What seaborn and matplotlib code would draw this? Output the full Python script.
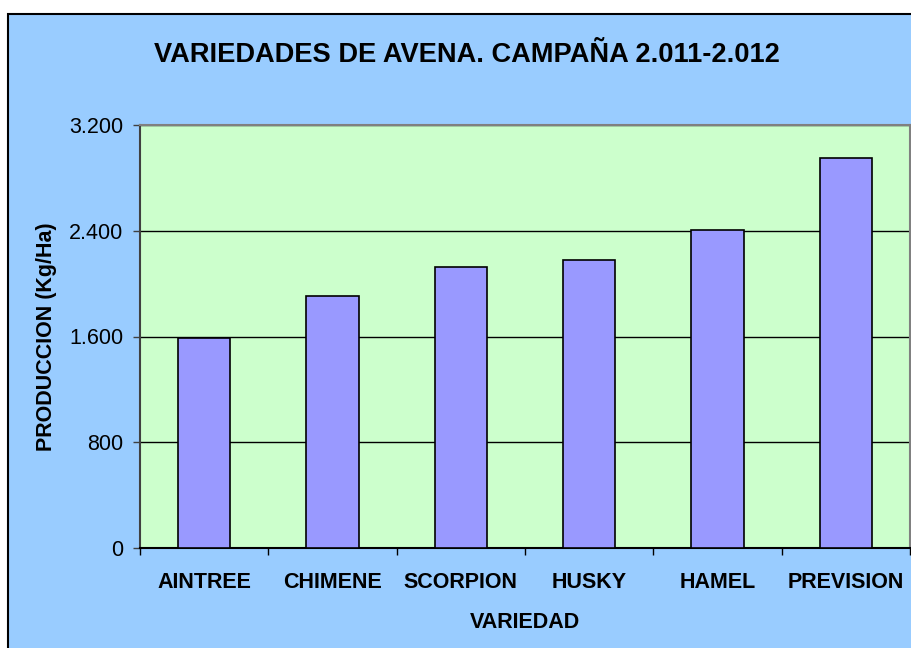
import matplotlib
matplotlib.use("Agg")
import matplotlib.pyplot as plt
import matplotlib.patches as mpatches
from matplotlib.ticker import FuncFormatter, FixedLocator
import seaborn as sns

# Datos
variedades = ["AINTREE", "CHIMENE", "SCORPION", "HUSKY", "HAMEL", "PREVISION"]
produccion = [1590, 1908, 2126, 2179, 2403, 2948]
y_ticks = [0, 800, 1600, 2400, 3200]

sns.set_style("white")
plt.rcParams["font.family"] = ["Liberation Sans", "DejaVu Sans"]
plt.rcParams["text.color"] = "black"
plt.rcParams["axes.labelcolor"] = "black"
plt.rcParams["xtick.color"] = "black"
plt.rcParams["ytick.color"] = "black"

fig = plt.figure(figsize=(9.11, 6.48), dpi=100)
fig.patch.set_facecolor("white")

# fondo del area del grafico (azul) con borde negro
fondo = mpatches.Rectangle((8 / 911, -0.02), 1.0, (648 - 14) / 648 + 0.02,
                           transform=fig.transFigure, facecolor="#99CCFF",
                           edgecolor="black", linewidth=1.5, zorder=-1)
fig.add_artist(fondo)

ax = fig.add_axes([140 / 911, 100 / 648, 770 / 911, 423 / 648])
ax.set_zorder(2)
ax.set_facecolor("#CCFFCC")

sns.barplot(x=variedades, y=produccion, color="#9999FF", width=0.41,
            edgecolor="black", linewidth=1.2, saturation=1, ax=ax, zorder=3)

ax.set_ylim(0, 3200)
ax.set_xlim(-0.5, len(variedades) - 0.5)
ax.yaxis.set_major_locator(FixedLocator(y_ticks))
ax.yaxis.set_major_formatter(FuncFormatter(lambda v, p: f"{int(v):,}".replace(",", ".")))
ax.yaxis.grid(True, color="black", linewidth=1.0)
ax.set_axisbelow(True)

# ticks del eje x en los limites de categoria
ax.set_xticks([i - 0.5 for i in range(len(variedades) + 1)], minor=True)
ax.tick_params(axis="x", which="major", length=0, pad=17, labelsize=15.5)
ax.tick_params(axis="x", which="minor", length=5, width=1, color="black", direction="out", bottom=True)
ax.tick_params(axis="y", which="major", length=5, width=1, color="#404040", direction="out",
               left=True, pad=7, labelsize=15.5)
for lbl in ax.get_xticklabels():
    lbl.set_fontweight("bold")

for s in ["top", "right"]:
    ax.spines[s].set_color("#808080")
    ax.spines[s].set_linewidth(1.5)
ax.spines["left"].set_color("#404040")
ax.spines["left"].set_linewidth(1.5)
ax.spines["bottom"].set_color("black")
ax.spines["bottom"].set_linewidth(1.5)

ax.set_xlabel("VARIEDAD", fontsize=15.5, fontweight="bold", labelpad=14)
ax.set_ylabel("PRODUCCION (Kg/Ha)", fontsize=15.5, fontweight="bold", labelpad=9)

fig.text(467 / 911, 1 - 55 / 648, "VARIEDADES DE AVENA. CAMPAÑA 2.011-2.012",
         ha="center", va="center", fontsize=19.6, fontweight="bold")

fig.savefig("out.png", dpi=100)
